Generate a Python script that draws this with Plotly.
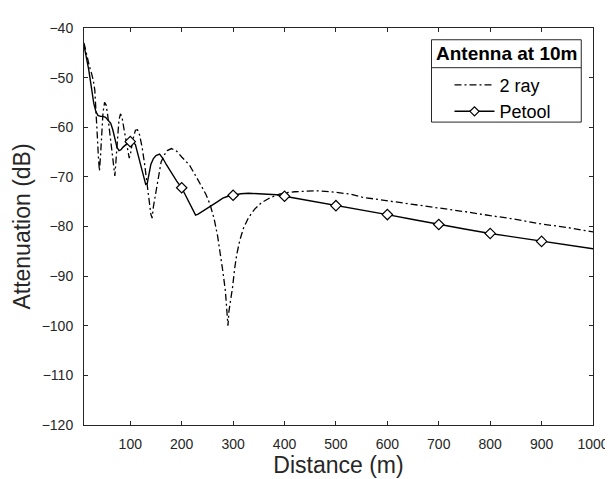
import plotly.graph_objects as go
import numpy as np

# ---- data ----
ray2_d = [10, 15, 20, 25, 28, 31, 34, 36, 38, 40, 42, 44, 47, 50, 53, 56, 60, 64, 67, 70,
          72, 75, 78, 81, 84, 88, 92, 96, 98, 101, 105, 110, 114, 118, 123, 128, 133, 137,
          140, 142.5, 145, 150, 155, 160, 166, 172, 180, 190, 200, 215, 230, 247, 255, 263,
          270, 275.6, 280, 285, 288, 290, 292, 295, 299, 303, 307, 313, 320, 330, 342, 355,
          374, 390, 402, 420, 440, 462, 490, 529, 551, 600, 650, 697, 750, 800, 840, 900,
          950, 1000]
ray2_att = [-43, -45.5, -47.5, -49.3, -50.5, -52.5, -57, -62, -66, -68.8, -66, -61, -57, -55,
            -55.5, -57.5, -61, -65, -68, -69.8, -67, -62, -58.5, -57.3, -58, -60.5, -63, -65.5,
            -66.2, -65, -62.5, -60.6, -60.5, -61.5, -64, -67.5, -71.5, -75, -77.5, -78.3, -76,
            -73, -69.5, -67, -65.6, -64.7, -64.3, -64.8, -66, -67.6, -70.3, -73.5, -75.5, -78.4,
            -82, -85.7, -89, -93, -97, -100, -97, -95, -92.2, -88.5, -85.7, -82.8, -80.4, -78.2,
            -76.5, -75.2, -74.1, -73.5, -73.2, -73, -72.9, -72.8, -73, -73.5, -74.1, -74.8,
            -75.5, -76.1, -77, -77.8, -78.4, -79.5, -80.2, -81.1]

petool_d = [10, 13, 16, 19, 23, 26, 29, 33, 37, 42, 47, 52, 57, 62, 66, 70, 74, 78, 82, 86,
            90, 95, 100, 105, 110, 115, 120, 125, 130, 133, 136, 140, 145, 150, 157, 163, 170,
            180, 190, 200, 210, 220, 227, 232, 240, 250, 260, 270, 280, 290, 300, 315, 330,
            350, 370, 385, 400, 450, 500, 550, 600, 650, 700, 750, 800, 850, 900, 950, 1000]
petool_att = [-43.5, -45, -47, -48.3, -51, -53.5, -55.2, -56.8, -57.6, -57.8, -57.8, -58.0,
              -58.5, -59.2, -60.5, -62.3, -64, -64.7, -64.5, -64, -63.6, -63.2, -62.9, -63.0,
              -63.5, -65.5, -67.5, -69.8, -71.5, -71.3, -69.5, -67.5, -66.3, -65.7, -65.4,
              -66.2, -67.5, -69.3, -70.8, -72.2, -74.2, -76.3, -77.7, -77.5, -77.0, -76.4,
              -75.8, -75.0, -74.3, -73.9, -73.7, -73.4, -73.3, -73.4, -73.5, -73.6, -73.9,
              -74.8, -75.8, -76.7, -77.6, -78.6, -79.6, -80.5, -81.4, -82.2, -83.0, -83.8, -84.5]

marker_d = [100, 200, 300, 400, 500, 600, 700, 800, 900]

x_ticks = [100, 200, 300, 400, 500, 600, 700, 800, 900, 1000]
y_ticks = [-120, -110, -100, -90, -80, -70, -60, -50, -40]

legend_title = "Antenna at 10m"
names = ["2 ray", "Petool"]

# ---- figure ----
axis_col = "#262626"
font_fam = "Liberation Sans, Arial, sans-serif"

marker_att = [petool_att[petool_d.index(d)] for d in marker_d]

fig = go.Figure()
fig.add_trace(go.Scatter(x=ray2_d, y=ray2_att, mode="lines", name=names[0],
                         line=dict(color="black", width=1.3, dash="7px,3px,2px,3px")))
fig.add_trace(go.Scatter(x=petool_d, y=petool_att, mode="lines", name=names[1],
                         showlegend=False, legendgroup="p",
                         line=dict(color="black", width=1.4)))
fig.add_trace(go.Scatter(x=marker_d, y=marker_att, mode="markers", name=names[1],
                         showlegend=False, legendgroup="p",
                         marker=dict(symbol="diamond", size=8, color="white",
                                     line=dict(color="black", width=1.2))))
fig.add_trace(go.Scatter(x=[None], y=[None], mode="lines+markers", name=names[1],
                         legendgroup="p",
                         line=dict(color="black", width=1.4),
                         marker=dict(symbol="diamond", size=7, color="white",
                                     line=dict(color="black", width=1.2))))

L, R, T, B = 76, 17, 12, 62
W, H = 613, 479
pw, ph = W - L - R, H - T - B

def px_x(p):
    return (p - L) / pw

def px_y(p):
    return 1 - (p - T) / ph

# legend box (pixels)
lb_l, lb_r, lb_t, lb_b, lb_sep = 431, 584, 24, 108, 52.5

fig.update_layout(
    width=W, height=H,
    margin=dict(l=L, r=R, t=T, b=B),
    paper_bgcolor="white", plot_bgcolor="white",
    font=dict(family=font_fam, color=axis_col, size=14),
    showlegend=True,
    legend=dict(
        x=px_x(lb_l), y=px_y(lb_sep - 1), xanchor="left", yanchor="top",
        borderwidth=0, bgcolor="rgba(0,0,0,0)",
        font=dict(size=18, color="black", family=font_fam),
        itemwidth=40, tracegroupgap=0, indentation=18,
    ),
)
fig.add_shape(type="rect", xref="paper", yref="paper",
              x0=px_x(lb_l), x1=px_x(lb_r), y0=px_y(lb_t), y1=px_y(lb_b),
              line=dict(color=axis_col, width=1), fillcolor="white", layer="below")
fig.add_shape(type="line", xref="paper", yref="paper",
              x0=px_x(lb_l), x1=px_x(lb_r), y0=px_y(lb_sep), y1=px_y(lb_sep),
              line=dict(color=axis_col, width=1))
fig.add_annotation(text="<b>" + legend_title + "</b>", xref="paper", yref="paper",
                   x=px_x((lb_l + lb_r) / 2), y=px_y((lb_t + lb_sep) / 2),
                   xanchor="center", yanchor="middle", showarrow=False,
                   font=dict(size=19, color="black", family=font_fam))
fig.update_xaxes(
    range=[10, 1000], tickmode="array", tickvals=x_ticks,
    showgrid=False, zeroline=False,
    showline=True, linecolor=axis_col, linewidth=1, mirror="ticks",
    ticks="inside", ticklen=4, tickcolor=axis_col, ticklabelstandoff=6,
    ticklabeloverflow="allow",
    tickfont=dict(size=14, color=axis_col),
    title=dict(text="Distance (m)", font=dict(size=23, color=axis_col), standoff=0),
)
fig.update_yaxes(
    range=[-120, -40], tickmode="array", tickvals=y_ticks,
    showgrid=False, zeroline=False,
    showline=True, linecolor=axis_col, linewidth=1, mirror="ticks",
    ticks="inside", ticklen=4, tickcolor=axis_col, ticklabelstandoff=7,
    tickfont=dict(size=14, color=axis_col),
    title=dict(text="Attenuation (dB)", font=dict(size=23, color=axis_col), standoff=4),
)

fig.write_html("out.html")
